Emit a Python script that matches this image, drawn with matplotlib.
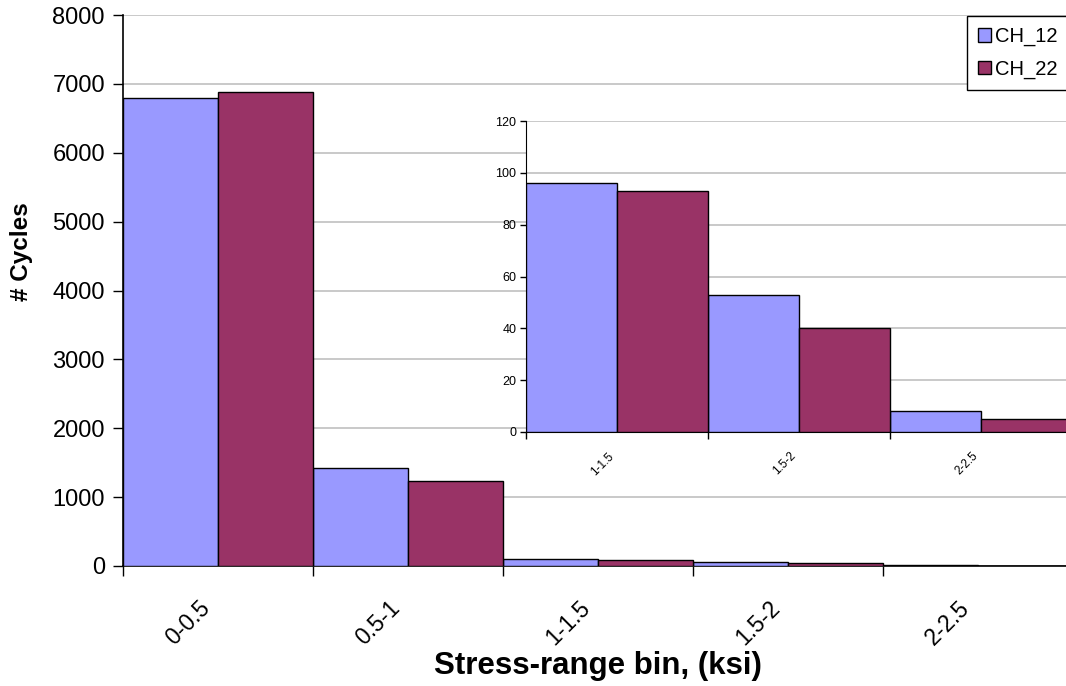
import matplotlib.pyplot as plt
import matplotlib.transforms as mtransforms
import numpy as np

plt.rcParams['font.family'] = ['Liberation Sans', 'DejaVu Sans']

bins = ['0-0.5', '0.5-1', '1-1.5', '1.5-2', '2-2.5']
ch_12 = [6800, 1420, 96, 53, 8]
ch_22 = [6880, 1240, 93, 40, 5]

# inset zooms on the last three bins
inset_bins = bins[2:]
inset_12 = ch_12[2:]
inset_22 = ch_22[2:]

c12 = '#9999ff'
c22 = '#993366'

fig = plt.figure(figsize=(10.66, 6.86), dpi=100)

ax = fig.add_axes([123/1066, 1-566/686, 950/1066, 551/686])
x = np.arange(len(bins))
ax.bar(x - 0.25, ch_12, width=0.5, color=c12, edgecolor='black', linewidth=1, label='CH_12', zorder=3)
ax.bar(x + 0.25, ch_22, width=0.5, color=c22, edgecolor='black', linewidth=1, label='CH_22', zorder=3)
ax.set_xlim(-0.5, len(bins) - 0.5)
ax.set_ylim(0, 8000)
ax.set_yticks(range(0, 8001, 1000))
ax.yaxis.grid(True, color='#c0c0c0', linewidth=1.2, zorder=0)
ax.set_xticks(x)
ax.set_xticklabels(bins, rotation=45, ha='right', rotation_mode='anchor', fontsize=16.5)
ax.set_xticks(np.arange(-0.5, len(bins), 1), minor=True)
ax.tick_params(axis='x', which='major', length=0, pad=22)
ax.tick_params(axis='x', which='minor', length=7, width=1, direction='out')
ax.tick_params(axis='y', labelsize=17, length=7, width=1, pad=6)
for s in ['top', 'right']:
    ax.spines[s].set_visible(False)
ax.spines['left'].set_linewidth(1.2)
ax.spines['bottom'].set_linewidth(1.2)
ax.set_ylabel('# Cycles', fontsize=17.5, fontweight='bold')
ax.yaxis.set_label_coords(-0.0947, 0.57)
ax.set_xlabel('Stress-range bin, (ksi)', fontsize=22.5, fontweight='bold')
ax.xaxis.set_label_coords(0.5, -0.155)

shift = mtransforms.ScaledTranslation(-20/100, 0, fig.dpi_scale_trans)
for lab in ax.get_xticklabels():
    lab.set_transform(lab.get_transform() + shift)

ins = fig.add_axes([526/1066, 1-432/686, 546/1066, 311/686])
xi = np.arange(len(inset_bins))
ins.bar(xi - 0.25, inset_12, width=0.5, color=c12, edgecolor='black', linewidth=1, zorder=3)
ins.bar(xi + 0.25, inset_22, width=0.5, color=c22, edgecolor='black', linewidth=1, zorder=3)
ins.set_xlim(-0.5, len(inset_bins) - 0.5)
ins.set_ylim(0, 120)
ins.set_yticks(range(0, 121, 20))
ins.yaxis.grid(True, color='#c0c0c0', linewidth=1.2, zorder=0)
ins.set_xticks(xi)
ins.set_xticklabels(inset_bins, rotation=45, ha='right', rotation_mode='anchor', fontsize=8.5)
ins.set_xticks(np.arange(-0.5, len(inset_bins), 1), minor=True)
ins.tick_params(axis='x', which='major', length=0, pad=13)
ins.tick_params(axis='x', which='minor', length=5, width=1, direction='out')
ins.tick_params(axis='y', labelsize=9, length=4, width=1, pad=3)
for s in ['top', 'right']:
    ins.spines[s].set_visible(False)

shift_i = mtransforms.ScaledTranslation(-9/100, 0, fig.dpi_scale_trans)
for lab in ins.get_xticklabels():
    lab.set_transform(lab.get_transform() + shift_i)

leg = fig.legend(loc='upper left', bbox_to_anchor=(967/1066, 1-16/686), fontsize=14.5,
                 frameon=True, fancybox=False, edgecolor='black', framealpha=1,
                 handlelength=0.65, handleheight=0.65, handletextpad=0.2,
                 borderpad=0.55, labelspacing=0.65, borderaxespad=0)
leg.get_frame().set_linewidth(1)

fig.savefig('out.png', dpi=100)
